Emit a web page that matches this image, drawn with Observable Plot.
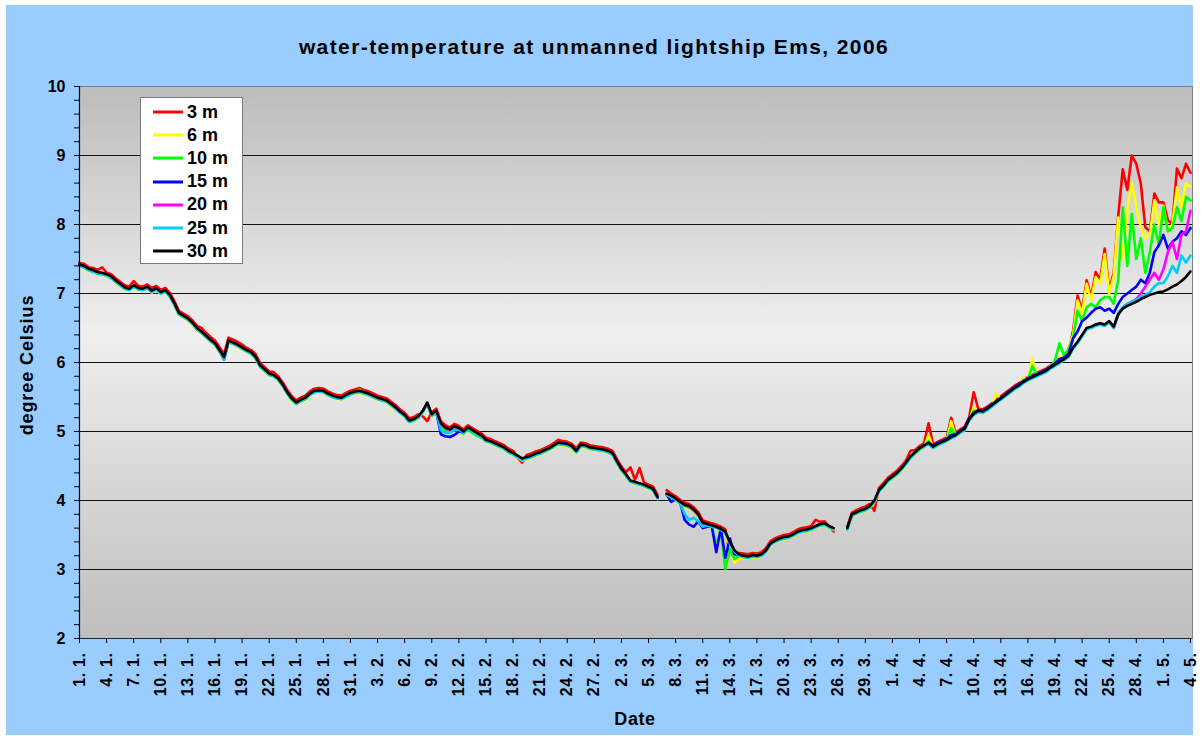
<!DOCTYPE html>
<html><head><meta charset="utf-8">
<script src="https://cdn.jsdelivr.net/npm/d3@7"></script>
<script src="https://cdn.jsdelivr.net/npm/@observablehq/plot@0.6"></script>
<style>
html,body{margin:0;padding:0;background:#fff;}
#wrap{position:relative;width:1202px;height:736px;overflow:hidden;font-family:"Liberation Sans",Arial,sans-serif;font-weight:bold;color:#000;}
#panel{position:absolute;left:6px;top:5px;width:1187px;height:730px;background:#99CCFF;}
#chart{position:absolute;left:0;top:0;}
#chart g[aria-label="x-axis tick label"] text{letter-spacing:0.6px;}
#title{position:absolute;left:0;width:1188px;top:34px;text-align:center;font-size:21px;letter-spacing:1.4px;line-height:26px;white-space:nowrap;}
#ylab{position:absolute;left:27px;top:365px;transform:translate(-50%,-50%) rotate(-90deg);font-size:18px;letter-spacing:0.9px;white-space:nowrap;}
#xlab{position:absolute;left:635px;top:719px;transform:translate(-50%,-50%);font-size:18px;letter-spacing:0.6px;white-space:nowrap;}
#legend{position:absolute;left:140px;top:97px;width:101px;height:165px;background:#fff;border:1px solid #7a7a7a;}
.lrow{position:absolute;left:0;height:24px;display:flex;align-items:center;font-size:18px;white-space:nowrap;}
.lrow svg{margin-left:12px;margin-right:4px;}
</style>
</head><body>
<div id="wrap">
  <div id="panel"><div id="chart"></div></div>
  <div id="title"></div>
  <div id="ylab"></div>
  <div id="xlab"></div>
  <div id="legend"></div>
</div>
<script>
const titleText = "water-temperature at unmanned lightship Ems, 2006";
const yLabelText = "degree Celsius";
const xLabelText = "Date";
const depths = ["3 m","6 m","10 m","15 m","20 m","25 m","30 m"];
const colors = ["#FF0000","#FFFF00","#00FF00","#0000FF","#FF00FF","#00CCFF","#000000"];
const yTickValues = [2,3,4,5,6,7,8,9,10];
const yTickLabels = ["2","3","4","5","6","7","8","9","10"];
const gridValues = [3,4,5,6,7,8,9];
const xTickLabels = ["1. 1.","4. 1.","7. 1.","10. 1.","13. 1.","16. 1.","19. 1.","22. 1.","25. 1.","28. 1.","31. 1.",
  "3. 2.","6. 2.","9. 2.","12. 2.","15. 2.","18. 2.","21. 2.","24. 2.","27. 2.",
  "2. 3.","5. 3.","8. 3.","11. 3.","14. 3.","17. 3.","20. 3.","23. 3.","26. 3.","29. 3.",
  "1. 4.","4. 4.","7. 4.","10. 4.","13. 4.","16. 4.","19. 4.","22. 4.","25. 4.","28. 4.",
  "1. 5.","4. 5."];
const xTickDays = [0,3,6,9,12,15,18,21,24,27,30,33,36,39,42,45,48,51,54,57,60,63,66,69,72,75,78,81,84,87,90,93,96,99,102,105,108,111,114,117,120,123];

// 12-hourly samples, 1 Jan 2006 00:00 UTC onwards (247 samples)
const t3m = [
7.44,7.43,7.38,7.37,7.34,7.38,7.30,7.28,7.22,7.17,
7.12,7.10,7.18,7.11,7.10,7.13,7.08,7.11,7.05,7.08,
7.01,6.89,6.75,6.71,6.67,6.61,6.53,6.50,6.43,6.37,
6.32,6.22,6.12,6.36,6.33,6.30,6.26,6.21,6.18,6.12,
5.99,5.93,5.87,5.86,5.80,5.71,5.60,5.51,5.45,5.49,
5.52,5.58,5.62,5.63,5.62,5.58,5.55,5.53,5.52,5.56,
5.59,5.61,5.63,5.60,5.58,5.55,5.52,5.50,5.48,5.43,
5.38,5.32,5.27,5.19,5.21,5.25,5.22,5.15,5.28,5.33,
5.15,5.09,5.06,5.11,5.08,5.03,5.09,5.05,5.01,4.97,
4.91,4.89,4.86,4.83,4.80,4.75,4.72,4.62,4.55,4.66,
4.68,4.71,4.73,4.76,4.79,4.83,4.88,4.86,4.85,4.82,
4.75,4.84,4.83,4.80,4.79,4.78,4.77,4.75,4.72,4.60,
4.49,4.41,4.48,4.30,4.47,4.26,4.23,4.20,4.08,NaN,
4.15,4.10,4.06,4.01,3.97,3.95,3.90,3.83,3.71,3.69,
3.67,3.65,3.62,3.58,3.23,3.25,3.24,3.23,3.22,3.24,
3.23,3.25,3.31,3.41,3.45,3.48,3.50,3.51,3.54,3.58,
3.60,3.61,3.63,3.72,3.69,3.70,3.62,3.55,NaN,NaN,
3.62,3.82,3.86,3.89,3.91,3.95,3.85,4.18,4.25,4.33,
4.38,4.43,4.50,4.58,4.72,4.73,4.79,4.83,5.12,4.81,
4.85,4.88,4.91,5.20,4.98,5.03,5.07,5.21,5.57,5.33,
5.32,5.36,5.41,5.46,5.51,5.56,5.61,5.66,5.70,5.75,
5.79,5.82,5.85,5.88,5.91,5.96,6.00,6.04,6.08,6.13,
6.46,6.97,6.75,7.19,6.95,7.31,7.20,7.65,7.05,7.30,
8.12,8.80,8.50,9.00,8.88,8.59,7.96,7.90,8.45,8.32,
8.32,8.06,8.01,8.81,8.67,8.88,8.75];
const t6m = [
7.40,7.37,7.33,7.31,7.28,7.27,7.25,7.22,7.16,7.11,
7.06,7.04,7.09,7.05,7.04,7.07,7.01,7.05,6.99,7.02,
6.95,6.83,6.69,6.65,6.61,6.55,6.47,6.42,6.36,6.30,
6.25,6.15,6.05,6.29,6.26,6.23,6.19,6.15,6.12,6.05,
5.93,5.87,5.81,5.79,5.74,5.65,5.54,5.45,5.39,5.43,
5.46,5.52,5.56,5.57,5.56,5.52,5.49,5.47,5.46,5.50,
5.53,5.55,5.56,5.54,5.52,5.49,5.46,5.44,5.42,5.37,
5.32,5.26,5.21,5.13,5.15,5.19,5.27,5.39,5.22,5.27,
5.09,5.03,5.00,5.05,5.02,4.97,5.03,4.99,4.95,4.91,
4.85,4.83,4.80,4.77,4.74,4.69,4.66,4.62,4.58,4.60,
4.62,4.65,4.67,4.70,4.73,4.77,4.81,4.80,4.79,4.76,
4.69,4.78,4.77,4.74,4.73,4.72,4.71,4.69,4.66,4.54,
4.43,4.35,4.26,4.24,4.22,4.20,4.17,4.14,4.02,NaN,
4.07,4.04,4.00,3.95,3.91,3.89,3.84,3.77,3.65,3.63,
3.61,3.59,3.56,3.52,3.30,3.10,3.15,3.17,3.16,3.18,
3.17,3.19,3.25,3.35,3.39,3.42,3.44,3.45,3.48,3.52,
3.54,3.55,3.57,3.60,3.63,3.64,3.60,3.57,NaN,NaN,
3.58,3.77,3.80,3.83,3.85,3.89,3.97,4.12,4.19,4.27,
4.32,4.37,4.44,4.52,4.61,4.67,4.73,4.77,4.95,4.76,
4.80,4.83,4.86,5.15,4.93,4.98,5.02,5.16,5.35,5.28,
5.27,5.31,5.36,5.55,5.46,5.51,5.56,5.61,5.65,5.78,
5.74,6.06,5.80,5.83,5.86,5.95,6.00,6.08,6.07,6.20,
6.40,6.90,6.70,7.14,6.90,7.24,7.14,7.57,7.00,7.25,
8.10,7.50,8.20,8.60,8.25,7.96,7.80,7.86,8.35,8.00,
8.27,7.91,8.00,8.54,8.25,8.59,8.55];
const t10m = [
7.41,7.38,7.34,7.32,7.29,7.28,7.26,7.23,7.17,7.12,
7.07,7.05,7.10,7.06,7.05,7.08,7.02,7.06,7.00,7.03,
6.96,6.84,6.70,6.66,6.62,6.56,6.48,6.43,6.37,6.31,
6.26,6.16,6.06,6.30,6.27,6.24,6.20,6.16,6.13,6.06,
5.94,5.88,5.82,5.80,5.75,5.66,5.55,5.46,5.40,5.44,
5.47,5.53,5.57,5.58,5.57,5.53,5.50,5.48,5.47,5.51,
5.54,5.56,5.61,5.55,5.53,5.50,5.47,5.45,5.43,5.38,
5.33,5.27,5.22,5.14,5.16,5.20,5.28,5.40,5.23,5.28,
5.08,5.02,4.99,5.04,5.01,4.97,5.03,4.98,4.94,4.91,
4.86,4.84,4.81,4.78,4.75,4.70,4.67,4.63,4.59,4.61,
4.63,4.66,4.68,4.71,4.74,4.78,4.82,4.81,4.80,4.77,
4.70,4.79,4.78,4.75,4.74,4.73,4.72,4.70,4.67,4.55,
4.44,4.36,4.27,4.25,4.23,4.21,4.18,4.15,4.03,NaN,
4.08,4.05,4.01,3.96,3.92,3.90,3.85,3.78,3.66,3.64,
3.62,3.35,3.55,3.01,3.30,3.15,3.20,3.18,3.17,3.19,
3.18,3.20,3.26,3.36,3.40,3.43,3.45,3.46,3.49,3.53,
3.55,3.56,3.58,3.61,3.64,3.65,3.61,3.58,NaN,NaN,
3.59,3.78,3.81,3.84,3.86,3.90,3.98,4.13,4.20,4.28,
4.33,4.38,4.45,4.53,4.62,4.68,4.74,4.78,4.86,4.77,
4.81,4.84,4.87,5.05,4.94,4.99,5.03,5.17,5.30,5.29,
5.28,5.32,5.37,5.45,5.47,5.52,5.57,5.62,5.66,5.75,
5.75,5.95,5.81,5.84,5.87,5.94,6.03,6.28,6.10,6.20,
6.35,6.75,6.60,6.80,6.85,6.80,6.90,6.95,6.95,6.85,
7.20,8.25,7.40,8.15,7.50,7.80,7.30,7.60,8.00,7.70,
8.25,7.90,7.95,8.25,8.05,8.40,8.35];
const t15m = [
7.42,7.39,7.35,7.33,7.30,7.29,7.27,7.24,7.18,7.13,
7.08,7.06,7.11,7.07,7.06,7.09,7.03,7.07,7.01,7.04,
6.97,6.85,6.71,6.67,6.63,6.57,6.49,6.44,6.38,6.32,
6.27,6.17,6.04,6.31,6.28,6.25,6.21,6.17,6.14,6.07,
5.95,5.89,5.83,5.81,5.76,5.67,5.56,5.47,5.41,5.45,
5.48,5.54,5.58,5.59,5.58,5.54,5.51,5.49,5.48,5.52,
5.55,5.57,5.58,5.56,5.54,5.51,5.48,5.46,5.44,5.39,
5.34,5.28,5.23,5.15,5.17,5.21,5.29,5.41,5.24,5.29,
4.96,4.93,4.92,4.95,5.00,4.99,5.05,5.01,4.97,4.93,
4.87,4.85,4.82,4.79,4.76,4.71,4.68,4.64,4.60,4.62,
4.64,4.67,4.69,4.72,4.75,4.79,4.83,4.82,4.81,4.78,
4.71,4.80,4.79,4.76,4.75,4.74,4.73,4.71,4.68,4.56,
4.45,4.37,4.28,4.26,4.24,4.22,4.19,4.16,4.04,NaN,
4.09,3.98,4.02,3.97,3.72,3.65,3.62,3.70,3.60,3.62,
3.63,3.25,3.60,3.17,3.45,3.22,3.21,3.19,3.18,3.20,
3.19,3.21,3.27,3.37,3.41,3.44,3.46,3.47,3.50,3.54,
3.56,3.57,3.59,3.62,3.65,3.66,3.62,3.59,NaN,NaN,
3.60,3.79,3.82,3.85,3.87,3.91,3.99,4.14,4.21,4.29,
4.34,4.39,4.46,4.54,4.63,4.69,4.75,4.79,4.83,4.80,
4.83,4.86,4.89,4.95,4.96,5.01,5.05,5.19,5.27,5.31,
5.30,5.34,5.39,5.44,5.49,5.54,5.59,5.64,5.68,5.73,
5.77,5.80,5.83,5.86,5.89,5.94,5.99,6.05,6.07,6.13,
6.35,6.45,6.60,6.65,6.72,6.78,6.80,6.75,6.78,6.72,
6.85,6.95,7.00,7.05,7.10,7.20,7.15,7.30,7.60,7.70,
7.85,7.65,7.75,7.80,7.90,7.85,7.95];
const t20m = [
7.42,7.40,7.36,7.33,7.30,7.29,7.27,7.24,7.18,7.13,
7.08,7.06,7.11,7.07,7.06,7.09,7.03,7.07,7.01,7.04,
6.97,6.85,6.71,6.67,6.63,6.57,6.49,6.44,6.38,6.32,
6.27,6.17,6.07,6.31,6.28,6.25,6.21,6.17,6.14,6.07,
5.95,5.89,5.83,5.81,5.76,5.67,5.56,5.47,5.41,5.45,
5.48,5.54,5.58,5.59,5.58,5.54,5.51,5.49,5.48,5.52,
5.55,5.57,5.58,5.56,5.54,5.51,5.48,5.46,5.44,5.39,
5.34,5.28,5.23,5.15,5.17,5.21,5.29,5.41,5.24,5.29,
5.11,5.05,5.02,5.07,5.04,4.99,5.05,5.01,4.97,4.93,
4.87,4.85,4.82,4.79,4.76,4.71,4.68,4.64,4.60,4.62,
4.64,4.67,4.69,4.72,4.75,4.79,4.83,4.82,4.81,4.78,
4.71,4.80,4.79,4.76,4.75,4.74,4.73,4.71,4.68,4.56,
4.45,4.37,4.28,4.26,4.24,4.22,4.19,4.16,4.04,NaN,
4.09,4.06,4.02,3.97,3.93,3.91,3.86,3.79,3.67,3.65,
3.63,3.61,3.58,3.54,3.39,3.27,3.21,3.19,3.18,3.20,
3.19,3.21,3.27,3.37,3.41,3.44,3.46,3.47,3.50,3.54,
3.56,3.57,3.59,3.62,3.65,3.66,3.62,3.59,NaN,NaN,
3.59,3.79,3.82,3.85,3.87,3.91,3.99,4.14,4.21,4.29,
4.34,4.39,4.46,4.54,4.63,4.69,4.75,4.79,4.83,4.77,
4.81,4.84,4.87,4.91,4.94,4.99,5.03,5.17,5.25,5.29,
5.28,5.32,5.37,5.42,5.47,5.52,5.57,5.62,5.66,5.71,
5.75,5.78,5.81,5.84,5.87,5.92,5.96,6.00,6.04,6.09,
6.21,6.29,6.39,6.49,6.51,6.54,6.56,6.54,6.59,6.50,
6.69,6.80,6.85,6.88,6.92,7.00,7.10,7.20,7.30,7.20,
7.35,7.60,7.75,7.50,7.85,7.90,8.20];
const t25m = [
7.40,7.38,7.34,7.31,7.29,7.28,7.26,7.22,7.17,7.12,
7.07,7.05,7.10,7.06,7.05,7.08,7.02,7.06,7.00,7.03,
6.96,6.84,6.70,6.66,6.62,6.56,6.48,6.43,6.37,6.31,
6.26,6.16,6.04,6.30,6.27,6.24,6.20,6.16,6.13,6.06,
5.94,5.88,5.82,5.80,5.75,5.66,5.55,5.46,5.40,5.44,
5.47,5.53,5.57,5.58,5.57,5.53,5.50,5.48,5.47,5.51,
5.54,5.56,5.57,5.55,5.53,5.50,5.47,5.45,5.43,5.38,
5.33,5.27,5.22,5.14,5.16,5.20,5.28,5.40,5.23,5.28,
5.02,4.98,4.98,5.02,5.03,4.98,5.04,5.00,4.96,4.92,
4.86,4.84,4.81,4.78,4.75,4.70,4.67,4.63,4.59,4.61,
4.63,4.66,4.68,4.71,4.74,4.78,4.82,4.81,4.80,4.77,
4.70,4.79,4.78,4.75,4.74,4.73,4.72,4.70,4.67,4.55,
4.44,4.36,4.27,4.25,4.23,4.21,4.18,4.15,4.03,NaN,
4.08,4.05,4.01,3.96,3.80,3.72,3.75,3.70,3.62,3.64,
3.62,3.60,3.57,3.53,3.38,3.26,3.20,3.18,3.17,3.19,
3.18,3.20,3.26,3.36,3.40,3.43,3.45,3.46,3.49,3.53,
3.55,3.56,3.58,3.61,3.64,3.65,3.61,3.58,NaN,NaN,
3.58,3.78,3.81,3.84,3.86,3.90,3.98,4.13,4.20,4.28,
4.33,4.38,4.45,4.53,4.62,4.68,4.74,4.78,4.82,4.76,
4.80,4.83,4.86,4.90,4.93,4.98,5.02,5.16,5.24,5.28,
5.27,5.31,5.36,5.41,5.46,5.51,5.56,5.61,5.65,5.70,
5.74,5.77,5.80,5.83,5.86,5.91,5.95,5.99,6.03,6.08,
6.20,6.28,6.38,6.48,6.50,6.53,6.55,6.53,6.58,6.50,
6.72,6.80,6.85,6.88,6.91,6.95,6.98,7.02,7.10,7.15,
7.15,7.25,7.40,7.30,7.55,7.45,7.55];
const t30m = [
7.42,7.40,7.36,7.34,7.31,7.30,7.28,7.25,7.19,7.14,
7.09,7.07,7.12,7.08,7.07,7.10,7.04,7.08,7.02,7.05,
6.98,6.86,6.72,6.68,6.64,6.58,6.50,6.45,6.39,6.33,
6.28,6.18,6.08,6.32,6.29,6.26,6.22,6.18,6.15,6.08,
5.96,5.90,5.84,5.82,5.77,5.68,5.57,5.48,5.42,5.46,
5.49,5.55,5.59,5.60,5.59,5.55,5.52,5.50,5.49,5.53,
5.56,5.58,5.59,5.57,5.55,5.52,5.49,5.47,5.45,5.40,
5.35,5.29,5.24,5.16,5.18,5.22,5.30,5.42,5.25,5.30,
5.12,5.06,5.03,5.08,5.05,5.00,5.06,5.02,4.98,4.94,
4.88,4.86,4.83,4.80,4.77,4.72,4.69,4.65,4.61,4.63,
4.65,4.68,4.70,4.73,4.76,4.80,4.84,4.83,4.82,4.79,
4.72,4.81,4.80,4.77,4.76,4.75,4.74,4.72,4.69,4.57,
4.46,4.38,4.29,4.27,4.25,4.23,4.20,4.17,4.05,NaN,
4.10,4.07,4.03,3.98,3.94,3.92,3.87,3.80,3.68,3.66,
3.64,3.62,3.59,3.55,3.40,3.28,3.22,3.20,3.19,3.21,
3.20,3.22,3.28,3.38,3.42,3.45,3.47,3.48,3.51,3.55,
3.57,3.58,3.60,3.63,3.66,3.67,3.63,3.60,NaN,NaN,
3.60,3.80,3.83,3.86,3.88,3.92,4.00,4.15,4.22,4.30,
4.35,4.40,4.47,4.55,4.64,4.70,4.76,4.80,4.84,4.78,
4.82,4.85,4.88,4.92,4.95,5.00,5.04,5.18,5.26,5.30,
5.29,5.33,5.38,5.43,5.48,5.53,5.58,5.63,5.67,5.72,
5.76,5.79,5.82,5.85,5.88,5.93,5.97,6.01,6.05,6.10,
6.22,6.30,6.40,6.50,6.52,6.55,6.57,6.55,6.60,6.52,
6.70,6.78,6.82,6.85,6.88,6.92,6.95,6.98,7.00,7.02,
7.03,7.06,7.10,7.13,7.18,7.24,7.32];

const seriesValues = [t3m, t6m, t10m, t15m, t20m, t25m, t30m];
const startMs = Date.UTC(2006, 0, 1);
const stepMs = 12 * 3600 * 1000;
const dayMs = 24 * 3600 * 1000;

const rows = [];
seriesValues.forEach((vals, k) => {
  vals.forEach((v, i) => rows.push({t: new Date(startMs + i * stepMs), depth: depths[k], v}));
});

const xTicks = xTickDays.map(d => new Date(startMs + d * dayMs));
const xLabelMap = new Map(xTicks.map((d, i) => [d.getTime(), xTickLabels[i]]));
const minorY = d3.range(20, 101, 2).map(v => v / 10);
const yFmt = d => {
  const k = yTickValues.findIndex(v => Math.abs(v - d) < 1e-9);
  return k >= 0 ? yTickLabels[k] : "";
};
const x0 = new Date(startMs);
const x1 = new Date(Date.UTC(2006, 4, 4, 5, 20));

const chart = Plot.plot({
  width: 1187, height: 730,
  marginLeft: 73, marginRight: 1, marginTop: 81, marginBottom: 97,
  style: {background: "transparent", fontFamily: "Liberation Sans, Arial, sans-serif", fontWeight: "bold", color: "#000", overflow: "visible"},
  x: {type: "utc", domain: [x0, x1]},
  y: {domain: [2, 10]},
  color: {domain: depths, range: colors},
  marks: [
    Plot.frame({fill: "url(#plotbg)", stroke: "#808080"}),
    Plot.gridY(gridValues, {stroke: "#111", strokeOpacity: 1, strokeWidth: 1.2}),
    Plot.line(rows, {x: "t", y: "v", z: "depth", stroke: "depth", strokeWidth: 2.6}),
    Plot.ruleY([2], {stroke: "#222", strokeWidth: 1.2}),
    Plot.ruleX([x0], {stroke: "#000", strokeWidth: 1.2}),
    Plot.axisY(minorY, {tickSize: 5, tickPadding: 9, fontSize: 16, tickFormat: yFmt, label: null}),
    Plot.axisX(xTicks, {tickSize: 5, tickPadding: 9, tickRotate: -90, fontSize: 16, tickFormat: d => xLabelMap.get(d.getTime()) ?? "", label: null})
  ]
});

const ns = "http://www.w3.org/2000/svg";
const defs = document.createElementNS(ns, "defs");
const grad = document.createElementNS(ns, "linearGradient");
grad.setAttribute("id", "plotbg");
grad.setAttribute("x1", "0"); grad.setAttribute("y1", "0");
grad.setAttribute("x2", "0"); grad.setAttribute("y2", "1");
[["0", "#BCBCBC"], ["0.45", "#EFEFEF"], ["1", "#BEBEBE"]].forEach(([o, c]) => {
  const s = document.createElementNS(ns, "stop");
  s.setAttribute("offset", o); s.setAttribute("stop-color", c);
  grad.appendChild(s);
});
defs.appendChild(grad);
chart.insertBefore(defs, chart.firstChild);
document.getElementById("chart").appendChild(chart);

document.getElementById("title").textContent = titleText;
document.getElementById("ylab").textContent = yLabelText;
document.getElementById("xlab").textContent = xLabelText;

const legend = document.getElementById("legend");
depths.forEach((d, i) => {
  const row = document.createElement("div");
  row.className = "lrow";
  row.style.top = (2 + 23.2 * i) + "px";
  row.innerHTML = `<svg width="30" height="6"><line x1="0" y1="3" x2="30" y2="3" stroke="${colors[i]}" stroke-width="3"/></svg><span>${d}</span>`;
  legend.appendChild(row);
});
</script>
</body></html>
